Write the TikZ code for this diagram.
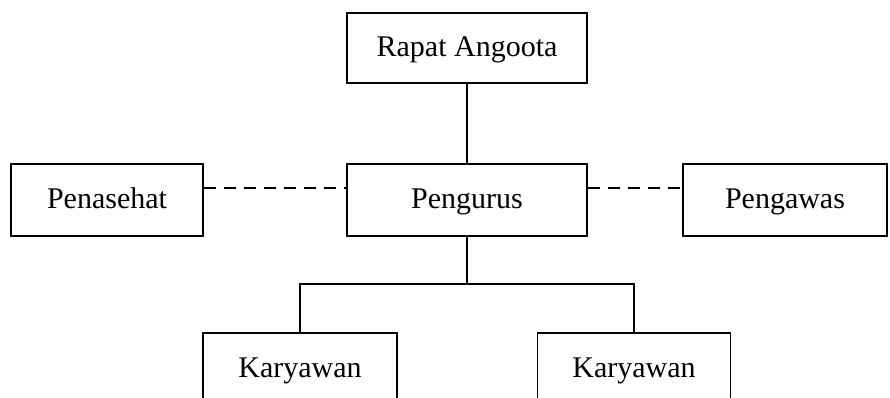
\documentclass[tikz,border=0pt]{standalone}
\usepackage{fontspec}
\setmainfont{Liberation Serif}
\begin{document}
\begin{tikzpicture}[x=0.75pt,y=-0.75pt,
  orgbox/.style={draw=black,line width=1pt,rectangle,inner sep=0pt,
    text height=15pt,text depth=1.5pt,
    minimum height=54pt,font=\fontsize{22.5pt}{27pt}\selectfont},
  link/.style={draw=black,line width=1pt},
  dashlink/.style={draw=black,line width=1pt,dash pattern=on 9pt off 6pt}]
\useasboundingbox (0,0) rectangle (890,398);
\clip (0,0) rectangle (890,398);
\node[orgbox,minimum width=180pt,minimum height=52.5pt] (rapat) at (467,48) {Rapat Angoota};
\node[orgbox,minimum width=180pt] (peng) at (467,200) {Pengurus};
\node[orgbox,minimum width=144pt] (pen) at (107,200) {Penasehat};
\node[orgbox,minimum width=153pt] (paw) at (785,200) {Pengawas};
\node[orgbox,minimum width=145.5pt] (k1) at (300,369) {Karyawan};
\node[orgbox,minimum width=145pt] (k2) at (634,369) {Karyawan};
\coordinate (bus) at (467,284);
\draw[link] (rapat.south) -- (peng.north);
\draw[link] (peng.south) -- (bus);
\draw[link] (k1.north) |- (bus) -| (k2.north);
\draw[dashlink] ([yshift=9pt]pen.east) -- ([yshift=9pt]peng.west);
\draw[dashlink] ([yshift=9pt]peng.east) -- ([yshift=9pt]paw.west);
\end{tikzpicture}
\end{document}
